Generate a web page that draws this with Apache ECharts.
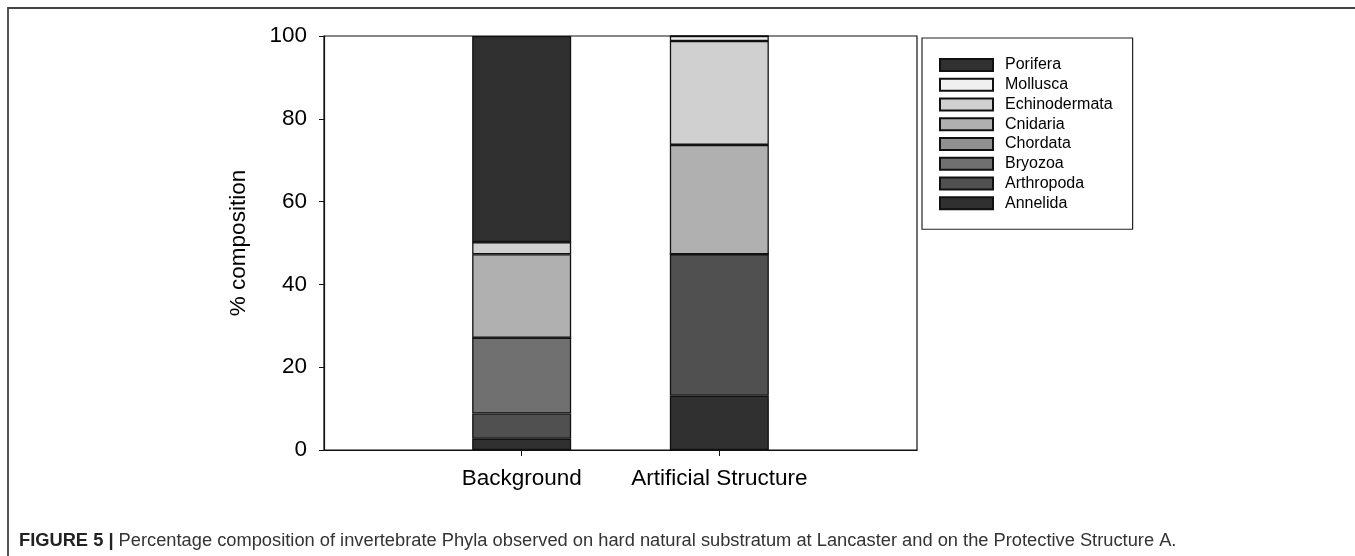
<!DOCTYPE html>
<html>
<head>
<meta charset="utf-8">
<script src="https://cdn.jsdelivr.net/npm/echarts@6/dist/echarts.min.js"></script>
<style>
  html, body { margin: 0; padding: 0; background: #fff; }
  #chart { width: 1355px; height: 556px; }
</style>
</head>
<body>
<div id="chart"></div>
<script>
// categories on the x axis
var categories = ['Background', 'Artificial Structure'];
// phyla, bottom of the stack first
var phyla = ['Annelida', 'Arthropoda', 'Bryozoa', 'Chordata', 'Cnidaria', 'Echinodermata', 'Mollusca', 'Porifera'];
// % composition per phylum [Background, Artificial Structure]
var annelida = [2.7, 13.1];
var arthropoda = [6.1, 34.2];
var bryozoa = [18.3, 0];
var chordata = [0, 0];
var cnidaria = [20.2, 26.4];
var echinodermata = [2.9, 25.1];
var mollusca = [0, 1.2];
var porifera = [49.8, 0];
var yTicks = [0, 20, 40, 60, 80, 100];

var values = [annelida, arthropoda, bryozoa, chordata, cnidaria, echinodermata, mollusca, porifera];
var fills = ['#303030', '#505050', '#707070', '#909090', '#b0b0b0', '#d0d0d0', '#f0f0f0', '#303030'];
var FONT = '"Liberation Sans", Arial, sans-serif';

var myChart = echarts.init(document.getElementById('chart'));

// axis runs over 3 equal steps, the bars sit on the middle two points
var xData = [''].concat(categories).concat(['']);

var seriesData = phyla.map(function (name, i) {
    return {
        name: name,
        type: 'bar',
        stack: 'all',
        barWidth: 99,
        itemStyle: {
            color: fills[i],
            borderColor: '#111',
            borderWidth: 1.3
        },
        data: [null].concat(values[i]).concat([null])
    };
});

var option = {
    animation: false,
    backgroundColor: '#fff',
    textStyle: {fontFamily: FONT},
    title: {
        left: 14,
        top: 527,
        text: '{b|FIGURE 5 |} Percentage composition of invertebrate Phyla observed on hard natural substratum at Lancaster and on the Protective Structure A.',
        textStyle: {
            fontFamily: FONT,
            fontSize: 18.3,
            fontWeight: 'normal',
            color: '#333',
            rich: {
                b: {
                    fontFamily: FONT,
                    fontSize: 18.3,
                    fontWeight: 'bold',
                    color: '#222'
                }
            }
        }
    },
    graphic: [{
        type: 'polyline',
        shape: {points: [[8, 556], [8, 8], [1355, 8]]},
        style: {stroke: '#444', lineWidth: 1.8, fill: null},
        silent: true
    }],
    legend: {
        orient: 'vertical',
        left: 922,
        top: 38,
        data: phyla.slice().reverse(),
        icon: 'rect',
        itemWidth: 53,
        itemHeight: 12,
        itemGap: 3.75,
        padding: [19, 20, 18, 17],
        borderColor: '#222',
        borderWidth: 1.2,
        textStyle: {
            fontFamily: FONT,
            fontSize: 16,
            lineHeight: 16,
            color: '#000',
            padding: [0, 0, 0, 7]
        }
    },
    grid: {
        left: 324,
        right: 438,
        top: 36,
        bottom: 106,
        show: true,
        borderColor: '#111',
        borderWidth: 1.2,
        backgroundColor: 'transparent'
    },
    xAxis: {
        type: 'category',
        boundaryGap: false,
        data: xData,
        axisLine: {lineStyle: {color: '#111', width: 1.2}},
        axisTick: {
            length: 6,
            lineStyle: {color: '#111'},
            interval: function (i) { return i === 1 || i === 2; }
        },
        axisLabel: {
            interval: 0,
            margin: 17,
            fontSize: 22.5,
            color: '#000',
            fontFamily: FONT
        },
        splitLine: {show: false}
    },
    yAxis: {
        type: 'value',
        min: yTicks[0],
        max: yTicks[yTicks.length - 1],
        interval: 20,
        name: '% composition',
        nameLocation: 'middle',
        nameGap: 74,
        nameTextStyle: {fontSize: 22.5, color: '#000', fontFamily: FONT},
        axisLine: {show: true, lineStyle: {color: '#111', width: 1.2}},
        axisTick: {show: true, length: 5, lineStyle: {color: '#111'}},
        axisLabel: {margin: 17, fontSize: 22.5, color: '#000', fontFamily: FONT},
        splitLine: {show: false}
    },
    series: seriesData
};

myChart.setOption(option);
</script>
</body>
</html>
